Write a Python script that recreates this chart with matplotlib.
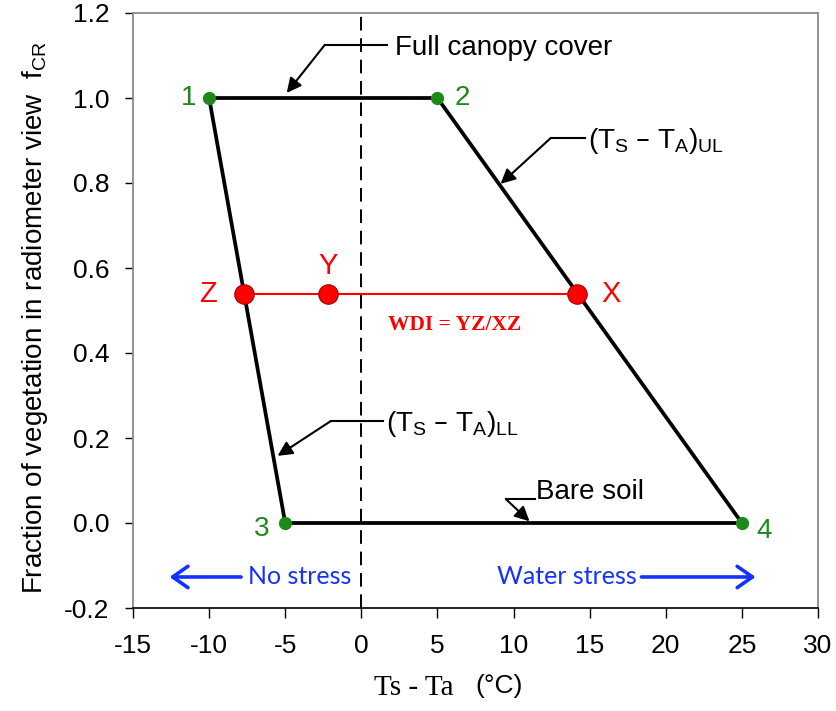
import matplotlib
matplotlib.use("Agg")
import matplotlib.pyplot as plt
import numpy as np

plt.rcParams["font.family"] = ["Liberation Sans", "DejaVu Sans"]
plt.rcParams["mathtext.default"] = "regular"
plt.rcParams["axes.unicode_minus"] = False

# Trapezoid corner points (Ts - Ta, fraction of vegetation cover)
corner_labels = ["1", "2", "4", "3"]
corner_x = [-10, 5, 25, -5]
corner_y = [1.0, 1.0, 0.0, 0.0]

# Points on the line of constant cover used to define WDI
wdi_labels = ["Z", "Y", "X"]
wdi_x = [-7.7, -2.2, 14.2]
wdi_y = [0.54, 0.54, 0.54]

x_ticks = [-15, -10, -5, 0, 5, 10, 15, 20, 25, 30]
y_ticks = [-0.2, 0.0, 0.2, 0.4, 0.6, 0.8, 1.0, 1.2]

GREEN = "#1b8a1b"
RED = "#ff0000"
BLUE = "#1432ff"

W, H = 837, 711
fig = plt.figure(figsize=(W / 100, H / 100), dpi=100)
ax = fig.add_axes([133 / W, (H - 608) / H, (818 - 133) / W, (608 - 13) / H])

ax.set_xlim(x_ticks[0], x_ticks[-1])
ax.set_ylim(y_ticks[0], y_ticks[-1])
ax.set_xticks(x_ticks)
ax.set_xticklabels([str(v) for v in x_ticks])
ax.set_yticks(y_ticks)
ax.set_yticklabels([f"{v:.1f}" for v in y_ticks])
ax.tick_params(axis="x", direction="out", length=7, width=1, pad=12, labelsize=19)
ax.tick_params(axis="y", direction="out", length=6, width=1, pad=11, labelsize=19)
for side in ["left", "top", "right"]:
    ax.spines[side].set_color("#8a8a8a")
    ax.spines[side].set_linewidth(1.3)
ax.spines["bottom"].set_color("black")
ax.spines["bottom"].set_linewidth(1.2)

# Zero line
ax.axvline(0, color="black", lw=1.4, ls=(0, (7, 4)), zorder=1)

# Closed trapezoid
tx = corner_x + [corner_x[0]]
ty = corner_y + [corner_y[0]]
ax.plot(tx, ty, color="black", lw=2.7, solid_capstyle="butt", zorder=3)
ax.plot(corner_x, corner_y, "o", color=GREEN, ms=8.5, zorder=4)
corner_offsets = {"1": (-15, 0), "2": (18, 0), "3": (-17, -4), "4": (16, -6)}
for lab, x, y in zip(corner_labels, corner_x, corner_y):
    ax.annotate(lab, (x, y), xytext=corner_offsets[lab], textcoords="offset points",
                ha="center", va="center", color=GREEN, fontsize=20)

# WDI line and points
ax.plot([wdi_x[0], wdi_x[-1]], [wdi_y[0], wdi_y[-1]], color=RED, lw=1.5, zorder=5)
ax.plot(wdi_x, wdi_y, "o", color=RED, mec="#a00000", mew=0.8, ms=14, zorder=6)
wdi_offsets = {"Z": (-26, 0), "Y": (0, 20), "X": (24, 0)}
for lab, x, y in zip(wdi_labels, wdi_x, wdi_y):
    ax.annotate(lab, (x, y), xytext=wdi_offsets[lab], textcoords="offset points",
                ha="center", va="center", color=RED, fontsize=21)
ax.text(6.15, 0.466, "WDI = YZ/XZ", color=RED, fontsize=15.5, fontweight="bold",
        family="Liberation Serif", ha="center", va="center")


def leader(text, text_xy, kink_start, kink_end, tip, fs=20):
    ax.plot([kink_start[0], kink_end[0]], [kink_start[1], kink_end[1]],
            color="black", lw=1.5, zorder=7)
    ax.annotate("", xy=tip, xytext=kink_start,
                arrowprops=dict(arrowstyle="-|>", color="black", lw=1.5,
                                mutation_scale=22, shrinkA=0, shrinkB=0), zorder=7)
    ax.text(text_xy[0], text_xy[1], text, fontsize=fs, ha="left", va="center")


leader("Full canopy cover", (2.2, 1.118), (-2.4, 1.125), (1.7, 1.125), (-4.9, 1.012))
leader(r"(T$_{S}$ – T$_{A}$)$_{UL}$", (14.9, 0.9), (12.45, 0.906), (14.7, 0.906), (9.15, 0.798))
leader(r"(T$_{S}$ – T$_{A}$)$_{LL}$", (1.6, 0.232), (-2.0, 0.24), (1.4, 0.24), (-5.5, 0.158))
leader("Bare soil", (11.5, 0.072), (9.5, 0.056), (11.4, 0.056), (11.05, 0.004))

# Stress direction arrows
ax.annotate("", xy=(-12.6, -0.127), xytext=(-7.9, -0.127),
            arrowprops=dict(arrowstyle="->,head_length=0.5,head_width=0.35", color=BLUE,
                            lw=2.6, mutation_scale=22, shrinkA=0, shrinkB=0))
ax.text(-7.45, -0.127, "No stress", color=BLUE, fontsize=18, family="Lato",
        ha="left", va="center")
ax.text(18.1, -0.127, "Water stress", color=BLUE, fontsize=18, family="Lato",
        ha="right", va="center")
ax.annotate("", xy=(25.9, -0.127), xytext=(18.4, -0.127),
            arrowprops=dict(arrowstyle="->,head_length=0.5,head_width=0.35", color=BLUE,
                            lw=2.6, mutation_scale=22, shrinkA=0, shrinkB=0))

# Axis titles
fig.text(35 / W, 1 - 318 / H, r"Fraction of vegetation in radiometer view  f$_{CR}$",
         rotation=90, ha="center", va="center", fontsize=20)
fig.text(454 / W, 1 - 688 / H, "Ts - Ta", family="Liberation Serif", fontsize=21,
         ha="right", va="center")
fig.text(475 / W, 1 - 686 / H, "(°C)", fontsize=19, ha="left", va="center")

fig.savefig("out.png", dpi=100)
